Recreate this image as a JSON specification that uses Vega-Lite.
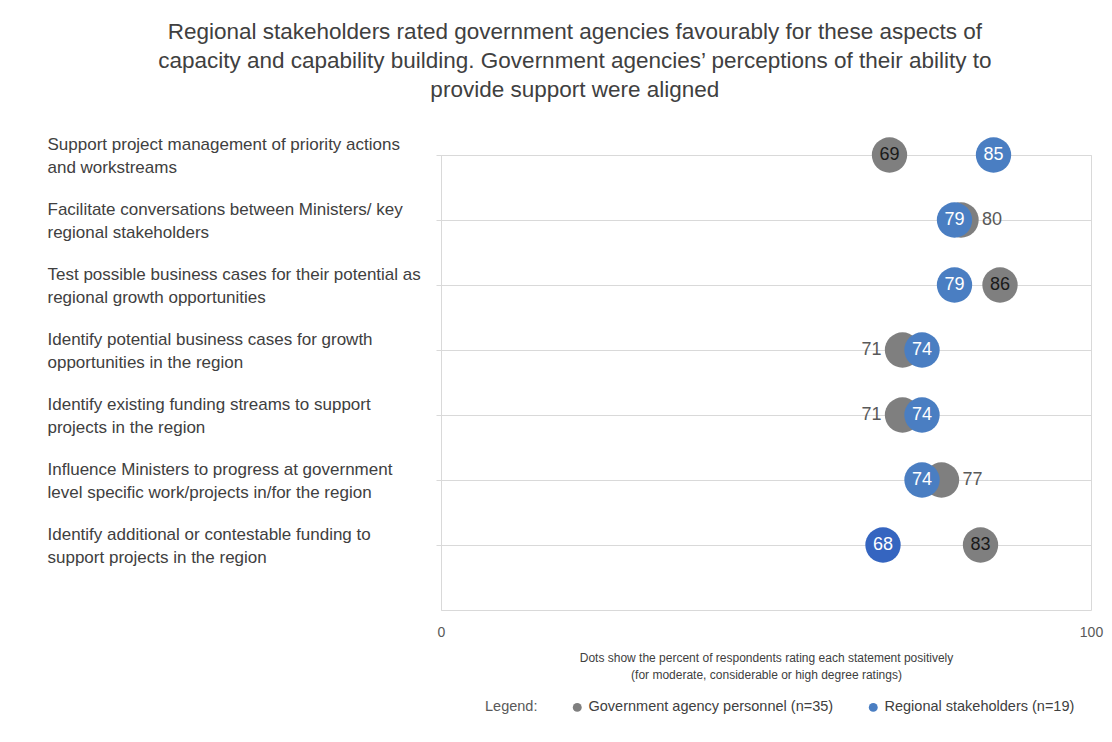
{
  "$schema": "https://vega.github.io/schema/vega-lite/v6.json",
  "width": 650,
  "height": 455,
  "padding": {"left": 47, "top": 20, "right": 5, "bottom": 5},
  "background": "white",
  "title": {
    "text": [
      "Regional stakeholders rated government agencies favourably for these aspects of",
      "capacity and capability building. Government agencies’ perceptions of their ability to",
      "provide support were aligned"
    ],
    "font": "Liberation Sans",
    "fontSize": 22.5,
    "fontWeight": "normal",
    "color": "#404040",
    "lineHeight": 29,
    "anchor": "middle",
    "frame": "bounds",
    "offset": 34
  },
  "data": {
    "values": [
      {"category": "Support project management of priority actions\nand workstreams", "gov": 69, "reg": 85},
      {"category": "Facilitate conversations between Ministers/ key\nregional stakeholders", "gov": 80, "reg": 79},
      {"category": "Test possible business cases for their potential as\nregional growth opportunities", "gov": 86, "reg": 79},
      {"category": "Identify potential business cases for growth\nopportunities in the region", "gov": 71, "reg": 74},
      {"category": "Identify existing funding streams to support\nprojects in the region", "gov": 71, "reg": 74},
      {"category": "Influence Ministers to progress at government\nlevel specific work/projects in/for the region", "gov": 77, "reg": 74},
      {"category": "Identify additional or contestable funding to\nsupport projects in the region", "gov": 83, "reg": 68}
    ]
  },
  "encoding": {
    "y": {
      "field": "category",
      "type": "nominal",
      "sort": null,
      "scale": {"type": "point", "padding": 0.5, "align": 0},
      "axis": {
        "title": null,
        "domain": true,
        "domainColor": "#d9d9d9",
        "ticks": true,
        "tickSize": 5,
        "tickColor": "#d9d9d9",
        "grid": true,
        "gridColor": "#d9d9d9",
        "labelAlign": "left",
        "labelBaseline": "middle",
        "labelPadding": 389,
        "labelOffset": -11,
        "labelLimit": 420,
        "labelFontSize": 17,
        "labelColor": "#404040",
        "labelLineHeight": 23,
        "labelExpr": "split(datum.label, '\\n')"
      }
    }
  },
  "layer": [
    {
      "mark": {"type": "circle", "size": 1250, "opacity": 1},
      "encoding": {
        "x": {
          "field": "gov",
          "type": "quantitative",
          "scale": {"domain": [0, 100], "nice": false},
          "axis": {
            "values": [0, 100],
            "domain": false,
            "ticks": false,
            "grid": false,
            "labelFlush": false,
            "labelFontSize": 14,
            "labelColor": "#595959",
            "labelPadding": 15,
            "title": [
              "Dots show the percent of respondents rating each statement positively",
              "(for moderate, considerable or high degree ratings)"
            ],
            "titleFont": "Liberation Sans",
            "titleFontSize": 12,
            "titleFontWeight": "normal",
            "titleColor": "#404040",
            "titleLineHeight": 17,
            "titlePadding": 13
          }
        },
        "color": {
          "datum": "Government agency personnel (n=35)",
          "scale": {
            "domain": ["Government agency personnel (n=35)", "Regional stakeholders (n=19)"],
            "range": ["#7f7f7f", "#4a7ec2"]
          },
          "legend": {
            "orient": "none",
            "legendX": 44,
            "legendY": 545,
            "direction": "horizontal",
            "title": "Legend:",
            "titleOrient": "left",
            "titleFontSize": 14.5,
            "titleFontWeight": "normal",
            "titleColor": "#595959",
            "titlePadding": 32,
            "symbolType": "circle",
            "symbolSize": 80,
            "symbolStrokeWidth": 0,
            "symbolOpacity": 1,
            "labelFontSize": 14.5,
            "labelColor": "#404040",
            "labelLimit": 400,
            "columnPadding": 32
          }
        }
      }
    },
    {
      "mark": {"type": "circle", "size": 1250, "opacity": 1},
      "encoding": {
        "x": {"field": "reg", "type": "quantitative"},
        "color": {
          "datum": "Regional stakeholders (n=19)",
          "condition": {"test": "datum.reg == 68", "value": "#3565c0"}
        }
      }
    },
    {
      "mark": {"type": "text", "fontSize": 18, "color": "white", "baseline": "middle"},
      "encoding": {
        "x": {"field": "reg", "type": "quantitative"},
        "text": {"field": "reg", "type": "quantitative"},
        "fontWeight": {"condition": {"test": "datum.reg == 68", "value": "bold"}, "value": "normal"}
      }
    },
    {
      "transform": [{"filter": "abs(datum.gov - datum.reg) >= 5"}],
      "mark": {"type": "text", "fontSize": 18, "color": "#1a1a1a", "baseline": "middle"},
      "encoding": {
        "x": {"field": "gov", "type": "quantitative"},
        "text": {"field": "gov", "type": "quantitative"}
      }
    },
    {
      "transform": [{"filter": "datum.gov > datum.reg && datum.gov - datum.reg < 5"}],
      "mark": {"type": "text", "fontSize": 18, "color": "#595959", "baseline": "middle", "align": "left", "dx": 21},
      "encoding": {
        "x": {"field": "gov", "type": "quantitative"},
        "text": {"field": "gov", "type": "quantitative"}
      }
    },
    {
      "transform": [{"filter": "datum.reg > datum.gov && datum.reg - datum.gov < 5"}],
      "mark": {"type": "text", "fontSize": 18, "color": "#595959", "baseline": "middle", "align": "right", "dx": -21},
      "encoding": {
        "x": {"field": "gov", "type": "quantitative"},
        "text": {"field": "gov", "type": "quantitative"}
      }
    }
  ],
  "config": {
    "font": "Liberation Sans",
    "view": {"stroke": "#d9d9d9"}
  }
}
